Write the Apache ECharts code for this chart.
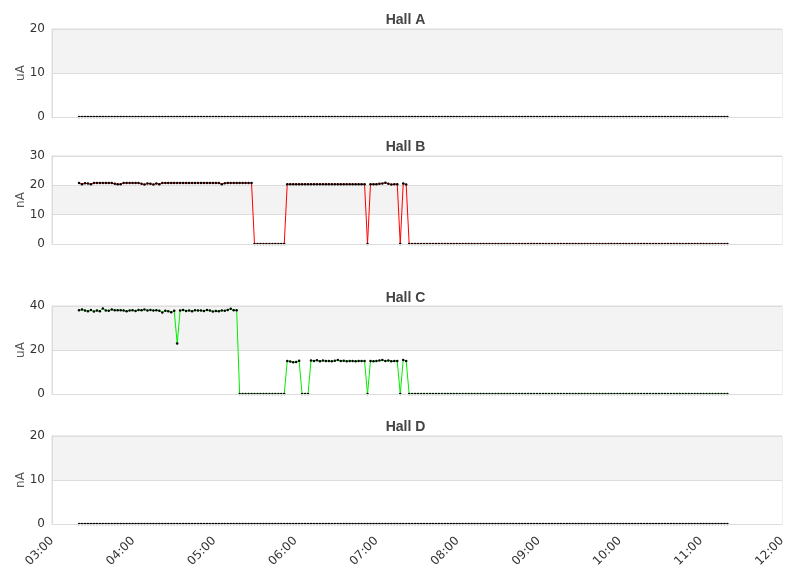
<!DOCTYPE html>
<html>
<head>
<meta charset="utf-8">
<script src="https://cdn.jsdelivr.net/npm/echarts@6/dist/echarts.min.js"></script>
<style>html,body{margin:0;padding:0;background:#fff}#c{width:811px;height:578px}</style>
</head>
<body>
<div id="c"></div>
<script>
// Sampling: first sample 03:20, one sample every 132 s (219 samples)
const startHour = 3 + 20 / 60;
const stepSeconds = 132;

const hallNames = ['Hall A', 'Hall B', 'Hall C', 'Hall D'];
const hallUnits = ['uA', 'nA', 'uA', 'nA'];
const yMax = [20, 30, 40, 20];
const yInterval = [10, 10, 20, 10];
const xTickLabels = ['03:00','04:00','05:00','06:00','07:00','08:00','09:00','10:00','11:00','12:00'];

const hallA = [
0,0,0,0,0,0,0,0,0,0,0,0,0,0,0,0,0,0,0,0,
0,0,0,0,0,0,0,0,0,0,0,0,0,0,0,0,0,0,0,0,
0,0,0,0,0,0,0,0,0,0,0,0,0,0,0,0,0,0,0,0,
0,0,0,0,0,0,0,0,0,0,0,0,0,0,0,0,0,0,0,0,
0,0,0,0,0,0,0,0,0,0,0,0,0,0,0,0,0,0,0,0,
0,0,0,0,0,0,0,0,0,0,0,0,0,0,0,0,0,0,0,0,
0,0,0,0,0,0,0,0,0,0,0,0,0,0,0,0,0,0,0,0,
0,0,0,0,0,0,0,0,0,0,0,0,0,0,0,0,0,0,0,0,
0,0,0,0,0,0,0,0,0,0,0,0,0,0,0,0,0,0,0,0,
0,0,0,0,0,0,0,0,0,0,0,0,0,0,0,0,0,0,0,0,
0,0,0,0,0,0,0,0,0,0,0,0,0,0,0,0,0,0,0
];

const hallB = [
20.8,20.4,20.7,20.6,20.4,20.8,20.8,20.8,20.8,20.8,20.8,20.8,20.5,20.4,20.4,20.8,20.8,20.8,20.8,20.8,
20.8,20.5,20.3,20.6,20.5,20.3,20.6,20.4,20.8,20.8,20.8,20.8,20.8,20.8,20.8,20.8,20.8,20.8,20.8,20.8,
20.8,20.8,20.8,20.8,20.8,20.8,20.8,20.8,20.4,20.7,20.8,20.8,20.8,20.8,20.8,20.8,20.8,20.8,20.8,
0,0,0,0,0,0,0,0,0,0,0,
20.4,20.4,20.4,20.4,20.4,20.4,20.4,20.4,20.4,20.4,20.4,20.4,20.4,20.4,20.4,20.4,20.4,20.4,20.4,20.4,
20.4,20.4,20.4,20.4,20.4,20.4,20.4,
0,
20.4,20.4,20.4,20.5,20.6,20.9,20.5,20.3,20.4,20.4,
0,
20.6,20.3,
0,0,0,0,0,0,0,0,0,0,0,0,0,0,0,0,0,0,0,0,
0,0,0,0,0,0,0,0,0,0,0,0,0,0,0,0,0,0,0,0,
0,0,0,0,0,0,0,0,0,0,0,0,0,0,0,0,0,0,0,0,
0,0,0,0,0,0,0,0,0,0,0,0,0,0,0,0,0,0,0,0,
0,0,0,0,0,0,0,0,0,0,0,0,0,0,0,0,0,0,0,0,
0,0,0,0,0,0,0,0
];

const hallC = [
38.1,38.4,37.9,37.6,38.2,37.5,37.9,37.6,38.9,38.0,37.8,38.4,38.1,38.1,38.1,38.0,37.6,38.0,38.1,37.7,
38.2,38.1,38.4,38.0,38.2,37.9,38.1,37.8,37.1,37.8,37.6,37.2,37.8,23.0,38.0,38.2,37.7,38.0,37.6,38.1,
37.9,38.0,37.7,38.2,37.9,37.5,37.7,37.6,38.0,37.8,38.2,38.8,38.1,38.1,
0,0,0,0,0,0,0,0,0,0,0,0,0,0,0,0,
15.0,14.8,14.4,14.6,15.1,
0,0,0,
15.2,15.0,15.3,14.9,15.2,15.0,15.0,14.9,15.1,15.4,15.0,15.1,14.9,15.0,15.0,14.9,15.0,15.0,15.0,
0,
15.0,14.9,15.0,15.2,15.4,15.0,15.2,14.9,15.0,15.0,
0,
15.5,15.0,
0,0,0,0,0,0,0,0,0,0,0,0,0,0,0,0,0,0,0,0,
0,0,0,0,0,0,0,0,0,0,0,0,0,0,0,0,0,0,0,0,
0,0,0,0,0,0,0,0,0,0,0,0,0,0,0,0,0,0,0,0,
0,0,0,0,0,0,0,0,0,0,0,0,0,0,0,0,0,0,0,0,
0,0,0,0,0,0,0,0,0,0,0,0,0,0,0,0,0,0,0,0,
0,0,0,0,0,0,0,0
];

const hallD = [
0,0,0,0,0,0,0,0,0,0,0,0,0,0,0,0,0,0,0,0,
0,0,0,0,0,0,0,0,0,0,0,0,0,0,0,0,0,0,0,0,
0,0,0,0,0,0,0,0,0,0,0,0,0,0,0,0,0,0,0,0,
0,0,0,0,0,0,0,0,0,0,0,0,0,0,0,0,0,0,0,0,
0,0,0,0,0,0,0,0,0,0,0,0,0,0,0,0,0,0,0,0,
0,0,0,0,0,0,0,0,0,0,0,0,0,0,0,0,0,0,0,0,
0,0,0,0,0,0,0,0,0,0,0,0,0,0,0,0,0,0,0,0,
0,0,0,0,0,0,0,0,0,0,0,0,0,0,0,0,0,0,0,0,
0,0,0,0,0,0,0,0,0,0,0,0,0,0,0,0,0,0,0,0,
0,0,0,0,0,0,0,0,0,0,0,0,0,0,0,0,0,0,0,0,
0,0,0,0,0,0,0,0,0,0,0,0,0,0,0,0,0,0,0
];

const hallValues = [hallA, hallB, hallC, hallD];
const lineColors = ['#000000', '#ff0000', '#00ee00', '#000000'];

// layout
const gridTops = [29, 156, 306, 436];
const gridHeight = 88;
const titleTops = [8, 135, 286, 415];

const chart = echarts.init(document.getElementById('c'));

const grids = [], xAxes = [], yAxes = [], series = [], titles = [];
for (let k = 0; k < 4; k++) {
  titles.push({
    text: hallNames[k], left: 'center', top: titleTops[k],
    textStyle: { fontSize: 14, fontWeight: 'bold', color: '#444', fontFamily: 'Liberation Sans, Arial, sans-serif' }
  });
  grids.push({ left: 52, right: 29, top: gridTops[k], height: gridHeight, show: true, borderColor: '#dddddd', borderWidth: 1, backgroundColor: 'transparent' });
  const last = k === 3;
  xAxes.push({
    type: 'value', gridIndex: k, min: 3, max: 12, interval: 1, z: 10,
    axisLine: { show: true, lineStyle: { color: '#dddddd', width: 1 } },
    axisTick: { show: false },
    splitLine: { show: false },
    axisLabel: {
      show: last, rotate: 45, fontSize: 12, color: '#333', margin: 15,
      fontFamily: 'DejaVu Sans, sans-serif',
      formatter: v => xTickLabels[Math.round(v) - 3]
    }
  });
  yAxes.push({
    type: 'value', gridIndex: k, min: 0, max: yMax[k], interval: yInterval[k],
    name: hallUnits[k], nameLocation: 'middle', nameGap: 25, nameMoveOverlap: false,
    nameTextStyle: { fontSize: 12, color: '#555', fontFamily: 'DejaVu Sans, sans-serif' },
    axisLine: { show: true, lineStyle: { color: '#dddddd' } },
    axisTick: { show: false },
    axisLabel: { fontSize: 12, color: '#333', margin: 7, fontFamily: 'DejaVu Sans, sans-serif' },
    splitLine: { show: true, lineStyle: { color: '#dddddd' } },
    splitArea: { show: true, areaStyle: { color: ['#ffffff', '#f3f3f3'] } }
  });
  const vals = hallValues[k];
  series.push({
    type: 'line', xAxisIndex: k, yAxisIndex: k,
    data: vals.map((v, i) => [startHour + i * stepSeconds / 3600, v]),
    symbol: 'circle', symbolSize: 2.5, showAllSymbol: true, showSymbol: true,
    itemStyle: { color: '#000' },
    lineStyle: { color: lineColors[k], width: 1 },
    animation: false, silent: true, clip: false
  });
}

chart.setOption({
  animation: false,
  backgroundColor: '#ffffff',
  title: titles,
  grid: grids,
  xAxis: xAxes,
  yAxis: yAxes,
  series: series
});
</script>
</body>
</html>
